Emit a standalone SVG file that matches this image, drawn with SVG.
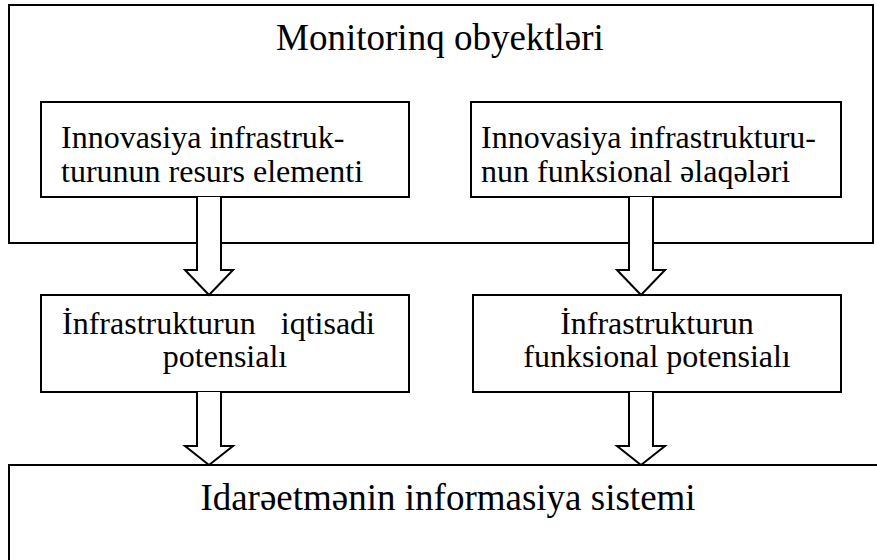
<svg xmlns="http://www.w3.org/2000/svg" width="877" height="560" viewBox="0 0 877 560">
<style>
.box{fill:#fff;stroke:#000;stroke-width:2}
.arr{fill:#fff;stroke:#000;stroke-width:2;stroke-linejoin:miter}
text{font-family:'Liberation Serif','Times New Roman','DejaVu Serif',serif;fill:#000}
.big{font-size:37px}
.mid{font-size:32px}
</style>
<rect width="877" height="560" fill="#fff"/>
<g id="monitoring">
<rect class="box" x="9" y="5" width="864" height="238"/>
<text class="big" x="440" y="50" text-anchor="middle">Monitorinq obyektləri</text>
</g>
<g id="resurs">
<rect class="box" x="41" y="102" width="368" height="95"/>
<text class="mid" x="61" y="148">Innovasiya infrastruk-</text>
<text class="mid" x="61" y="182">turunun resurs elementi</text>
</g>
<g id="funksional-elaqe">
<rect class="box" x="471" y="102" width="370" height="95"/>
<text class="mid" x="481" y="148">Innovasiya infrastrukturu-</text>
<text class="mid" x="481" y="182">nun funksional əlaqələri</text>
</g>
<g id="iqtisadi">
<rect class="box" x="41" y="295" width="368" height="97"/>
<text class="mid" y="334"><tspan x="62">İnfrastrukturun</tspan><tspan x="375" text-anchor="end">iqtisadi</tspan></text>
<text class="mid" x="225" y="367" text-anchor="middle">potensialı</text>
</g>
<g id="funksional-potensial">
<rect class="box" x="473" y="295" width="368" height="97"/>
<text class="mid" x="657" y="334" text-anchor="middle">İnfrastrukturun</text>
<text class="mid" x="657" y="367" text-anchor="middle">funksional potensialı</text>
</g>
<g id="idareetme">
<rect class="box" x="9" y="465" width="880" height="110"/>
<text class="big" x="448" y="510" text-anchor="middle">Idarəetmənin informasiya sistemi</text>
</g>
<g id="connectors">
<path class="arr" d="M197,197 V270 H185 L209,295 L233,270 H221 V197"/>
<path class="arr" d="M629,197 V270 H617 L641,295 L665,270 H653 V197"/>
<path class="arr" d="M197,392 V446 H185 L209,465 L233,446 H221 V392"/>
<path class="arr" d="M629,392 V446 H617 L641,465 L665,446 H653 V392"/>
</g>
</svg>
